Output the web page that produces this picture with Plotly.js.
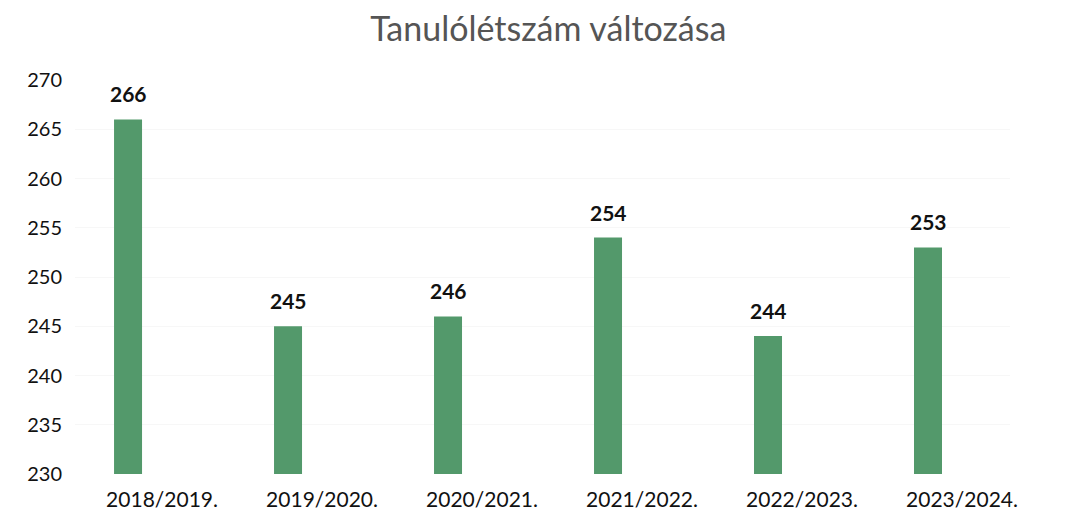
<!DOCTYPE html>
<html>
<head>
<meta charset="utf-8">
<script src="https://cdn.plot.ly/plotly-3.0.1.min.js"></script>
<style>html,body{margin:0;padding:0;background:#fff;}#chart{width:1075px;height:522px;}</style>
</head>
<body>
<div id="chart"></div>
<script>
const categories = ["2018/2019.", "2019/2020.", "2020/2021.", "2021/2022.", "2022/2023.", "2023/2024."];
const values = [266, 245, 246, 254, 244, 253];
const yTicks = [230, 235, 240, 245, 250, 255, 260, 265, 270];

const trace = {
  type: 'bar',
  x: categories,
  y: values,
  width: 0.175,
  offset: -0.3,
  marker: {color: '#53996b'},
  hoverinfo: 'none'
};

const labelAnnotations = categories.map((c, i) => ({
  x: c, y: values[i], xref: 'x', yref: 'y',
  text: String(values[i]), showarrow: false,
  xshift: -34, yanchor: 'bottom', yshift: 11,
  font: {family: 'Lato, sans-serif', size: 21, color: '#111', weight: 'bold'}
}));

const layout = {
  width: 1075, height: 522,
  margin: {l: 75, r: 65, t: 80, b: 48},
  paper_bgcolor: '#fff', plot_bgcolor: '#fff',
  title: {text: 'Tanulólétszám változása', x: 0.51, xanchor: 'center', y: 0.945, yanchor: 'middle',
          font: {family: 'Lato, sans-serif', size: 34, color: '#555'}},
  xaxis: {type: 'category', range: [-0.544, 5.3], showgrid: false, zeroline: false, showline: false,
          ticks: '', ticklabelstandoff: 11,
          tickfont: {family: 'Lato, sans-serif', size: 21, color: '#111'}},
  yaxis: {range: [230, 270], tickvals: yTicks, ticktext: yTicks.map(String), showgrid: true,
          gridcolor: '#f7f7f7', zeroline: false, showline: false, ticks: '', ticklabelstandoff: 12,
          tickfont: {family: 'Lato, sans-serif', size: 20, color: '#111'}},
  annotations: labelAnnotations,
  showlegend: false,
  bargap: 0.8
};

Plotly.newPlot('chart', [trace], layout, {displayModeBar: false, staticPlot: true});
</script>
</body>
</html>
